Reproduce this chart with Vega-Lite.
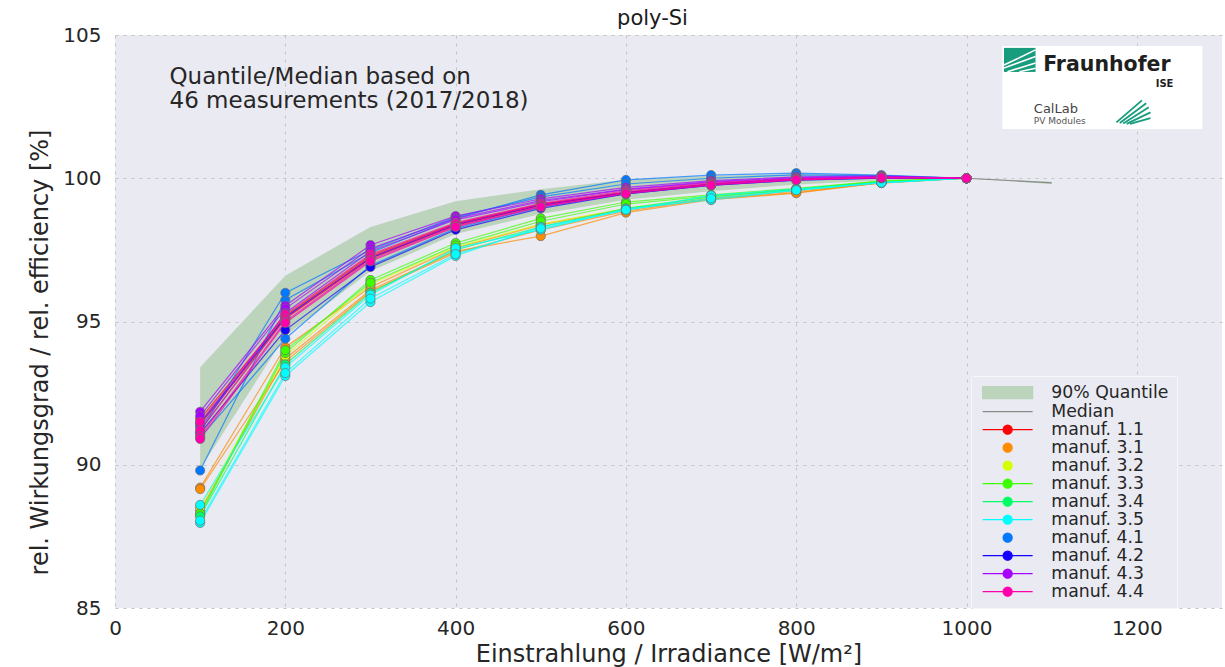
{
"$schema": "https://vega.github.io/schema/vega-lite/v6.json",
"width": 1107, "height": 573,
"autosize": "none",
"padding": {"left": 115, "top": 35, "right": 3, "bottom": 59},
"background": "#ffffff",
"title": {"text": "poly-Si", "font": "DejaVu Sans", "fontSize": 21, "fontWeight": "normal", "color": "#1a1a1a", "anchor": "middle", "offset": -4, "dx": -16},
"config": {
  "view": {"fill": "#eaeaf2", "stroke": null},
  "axis": {"labelFont": "DejaVu Sans", "titleFont": "DejaVu Sans", "labelColor": "#262626", "titleColor": "#262626", "titleFontWeight": "normal", "grid": true, "gridColor": "#c4c4c8", "gridDash": [3, 5], "gridWidth": 1, "domain": false, "ticks": false, "labelFlush": false, "labelOverlap": false},
  "legend": {
    "title": null, "orient": "none", "legendX": 856, "legendY": 341,
    "labelFont": "DejaVu Sans", "labelFontSize": 17.3, "labelColor": "#262626", "labelOffset": 55,
    "symbolSize": 100, "rowPadding": 0, "padding": 8,
    "fillColor": "#eaeaf2", "strokeColor": "#f7f7fa", "cornerRadius": 2
  }
},
"datasets": {
"series": [
{"m":"manuf. 1.1","s":1,"x":100,"y":91.6},{"m":"manuf. 1.1","s":1,"x":200,"y":95.2},{"m":"manuf. 1.1","s":1,"x":300,"y":97.3},{"m":"manuf. 1.1","s":1,"x":400,"y":98.42},{"m":"manuf. 1.1","s":1,"x":500,"y":99.1},{"m":"manuf. 1.1","s":1,"x":600,"y":99.5},{"m":"manuf. 1.1","s":1,"x":700,"y":99.8},{"m":"manuf. 1.1","s":1,"x":800,"y":99.97},{"m":"manuf. 1.1","s":1,"x":900,"y":100.03},{"m":"manuf. 1.1","s":1,"x":1000,"y":100},
{"m":"manuf. 1.1","s":2,"x":100,"y":91.4},{"m":"manuf. 1.1","s":2,"x":200,"y":95.1},{"m":"manuf. 1.1","s":2,"x":300,"y":97.2},{"m":"manuf. 1.1","s":2,"x":400,"y":98.35},{"m":"manuf. 1.1","s":2,"x":500,"y":99.05},{"m":"manuf. 1.1","s":2,"x":600,"y":99.47},{"m":"manuf. 1.1","s":2,"x":700,"y":99.77},{"m":"manuf. 1.1","s":2,"x":800,"y":99.95},{"m":"manuf. 1.1","s":2,"x":900,"y":100.02},{"m":"manuf. 1.1","s":2,"x":1000,"y":100},
{"m":"manuf. 3.1","s":3,"x":100,"y":89.2},{"m":"manuf. 3.1","s":3,"x":200,"y":94.1},{"m":"manuf. 3.1","s":3,"x":300,"y":96.2},{"m":"manuf. 3.1","s":3,"x":400,"y":97.56},{"m":"manuf. 3.1","s":3,"x":500,"y":98.37},{"m":"manuf. 3.1","s":3,"x":600,"y":98.93},{"m":"manuf. 3.1","s":3,"x":700,"y":99.3},{"m":"manuf. 3.1","s":3,"x":800,"y":99.55},{"m":"manuf. 3.1","s":3,"x":900,"y":99.83},{"m":"manuf. 3.1","s":3,"x":1000,"y":100},
{"m":"manuf. 3.1","s":4,"x":100,"y":89.15},{"m":"manuf. 3.1","s":4,"x":200,"y":93.6},{"m":"manuf. 3.1","s":4,"x":300,"y":96.05},{"m":"manuf. 3.1","s":4,"x":400,"y":97.4},{"m":"manuf. 3.1","s":4,"x":500,"y":98.2},{"m":"manuf. 3.1","s":4,"x":600,"y":98.85},{"m":"manuf. 3.1","s":4,"x":700,"y":99.28},{"m":"manuf. 3.1","s":4,"x":800,"y":99.5},{"m":"manuf. 3.1","s":4,"x":900,"y":99.85},{"m":"manuf. 3.1","s":4,"x":1000,"y":100},
{"m":"manuf. 3.1","s":5,"x":100,"y":88.4},{"m":"manuf. 3.1","s":5,"x":200,"y":93.7},{"m":"manuf. 3.1","s":5,"x":300,"y":96.1},{"m":"manuf. 3.1","s":5,"x":400,"y":97.45},{"m":"manuf. 3.1","s":5,"x":500,"y":97.98},{"m":"manuf. 3.1","s":5,"x":600,"y":98.8},{"m":"manuf. 3.1","s":5,"x":700,"y":99.25},{"m":"manuf. 3.1","s":5,"x":800,"y":99.48},{"m":"manuf. 3.1","s":5,"x":900,"y":99.85},{"m":"manuf. 3.1","s":5,"x":1000,"y":100},
{"m":"manuf. 3.2","s":6,"x":100,"y":88.5},{"m":"manuf. 3.2","s":6,"x":200,"y":93.8},{"m":"manuf. 3.2","s":6,"x":300,"y":96.3},{"m":"manuf. 3.2","s":6,"x":400,"y":97.6},{"m":"manuf. 3.2","s":6,"x":500,"y":98.4},{"m":"manuf. 3.2","s":6,"x":600,"y":98.95},{"m":"manuf. 3.2","s":6,"x":700,"y":99.35},{"m":"manuf. 3.2","s":6,"x":800,"y":99.6},{"m":"manuf. 3.2","s":6,"x":900,"y":99.88},{"m":"manuf. 3.2","s":6,"x":1000,"y":100},
{"m":"manuf. 3.3","s":7,"x":100,"y":88.25},{"m":"manuf. 3.3","s":7,"x":200,"y":93.9},{"m":"manuf. 3.3","s":7,"x":300,"y":96.45},{"m":"manuf. 3.3","s":7,"x":400,"y":97.74},{"m":"manuf. 3.3","s":7,"x":500,"y":98.6},{"m":"manuf. 3.3","s":7,"x":600,"y":99.17},{"m":"manuf. 3.3","s":7,"x":700,"y":99.42},{"m":"manuf. 3.3","s":7,"x":800,"y":99.65},{"m":"manuf. 3.3","s":7,"x":900,"y":99.9},{"m":"manuf. 3.3","s":7,"x":1000,"y":100},
{"m":"manuf. 3.3","s":8,"x":100,"y":88.3},{"m":"manuf. 3.3","s":8,"x":200,"y":94.0},{"m":"manuf. 3.3","s":8,"x":300,"y":96.35},{"m":"manuf. 3.3","s":8,"x":400,"y":97.65},{"m":"manuf. 3.3","s":8,"x":500,"y":98.5},{"m":"manuf. 3.3","s":8,"x":600,"y":99.1},{"m":"manuf. 3.3","s":8,"x":700,"y":99.38},{"m":"manuf. 3.3","s":8,"x":800,"y":99.62},{"m":"manuf. 3.3","s":8,"x":900,"y":99.9},{"m":"manuf. 3.3","s":8,"x":1000,"y":100},
{"m":"manuf. 3.4","s":9,"x":100,"y":88.2},{"m":"manuf. 3.4","s":9,"x":200,"y":93.5},{"m":"manuf. 3.4","s":9,"x":300,"y":96.0},{"m":"manuf. 3.4","s":9,"x":400,"y":97.5},{"m":"manuf. 3.4","s":9,"x":500,"y":98.3},{"m":"manuf. 3.4","s":9,"x":600,"y":98.95},{"m":"manuf. 3.4","s":9,"x":700,"y":99.35},{"m":"manuf. 3.4","s":9,"x":800,"y":99.6},{"m":"manuf. 3.4","s":9,"x":900,"y":99.87},{"m":"manuf. 3.4","s":9,"x":1000,"y":100},
{"m":"manuf. 3.5","s":10,"x":100,"y":88.6},{"m":"manuf. 3.5","s":10,"x":200,"y":93.4},{"m":"manuf. 3.5","s":10,"x":300,"y":95.93},{"m":"manuf. 3.5","s":10,"x":400,"y":97.56},{"m":"manuf. 3.5","s":10,"x":500,"y":98.2},{"m":"manuf. 3.5","s":10,"x":600,"y":98.93},{"m":"manuf. 3.5","s":10,"x":700,"y":99.24},{"m":"manuf. 3.5","s":10,"x":800,"y":99.59},{"m":"manuf. 3.5","s":10,"x":900,"y":99.85},{"m":"manuf. 3.5","s":10,"x":1000,"y":100},
{"m":"manuf. 3.5","s":11,"x":100,"y":87.97},{"m":"manuf. 3.5","s":11,"x":200,"y":93.1},{"m":"manuf. 3.5","s":11,"x":300,"y":95.68},{"m":"manuf. 3.5","s":11,"x":400,"y":97.29},{"m":"manuf. 3.5","s":11,"x":500,"y":98.3},{"m":"manuf. 3.5","s":11,"x":600,"y":98.88},{"m":"manuf. 3.5","s":11,"x":700,"y":99.4},{"m":"manuf. 3.5","s":11,"x":800,"y":99.62},{"m":"manuf. 3.5","s":11,"x":900,"y":99.85},{"m":"manuf. 3.5","s":11,"x":1000,"y":100},
{"m":"manuf. 3.5","s":12,"x":100,"y":88.05},{"m":"manuf. 3.5","s":12,"x":200,"y":93.2},{"m":"manuf. 3.5","s":12,"x":300,"y":95.8},{"m":"manuf. 3.5","s":12,"x":400,"y":97.35},{"m":"manuf. 3.5","s":12,"x":500,"y":98.25},{"m":"manuf. 3.5","s":12,"x":600,"y":98.9},{"m":"manuf. 3.5","s":12,"x":700,"y":99.3},{"m":"manuf. 3.5","s":12,"x":800,"y":99.58},{"m":"manuf. 3.5","s":12,"x":900,"y":99.84},{"m":"manuf. 3.5","s":12,"x":1000,"y":100},
{"m":"manuf. 4.1","s":13,"x":100,"y":89.8},{"m":"manuf. 4.1","s":13,"x":200,"y":95.75},{"m":"manuf. 4.1","s":13,"x":300,"y":97.4},{"m":"manuf. 4.1","s":13,"x":400,"y":98.6},{"m":"manuf. 4.1","s":13,"x":500,"y":99.42},{"m":"manuf. 4.1","s":13,"x":600,"y":99.94},{"m":"manuf. 4.1","s":13,"x":700,"y":100.11},{"m":"manuf. 4.1","s":13,"x":800,"y":100.18},{"m":"manuf. 4.1","s":13,"x":900,"y":100.11},{"m":"manuf. 4.1","s":13,"x":1000,"y":100},
{"m":"manuf. 4.1","s":14,"x":100,"y":91.15},{"m":"manuf. 4.1","s":14,"x":200,"y":96.0},{"m":"manuf. 4.1","s":14,"x":300,"y":97.5},{"m":"manuf. 4.1","s":14,"x":400,"y":98.65},{"m":"manuf. 4.1","s":14,"x":500,"y":99.35},{"m":"manuf. 4.1","s":14,"x":600,"y":99.8},{"m":"manuf. 4.1","s":14,"x":700,"y":100.0},{"m":"manuf. 4.1","s":14,"x":800,"y":100.12},{"m":"manuf. 4.1","s":14,"x":900,"y":100.08},{"m":"manuf. 4.1","s":14,"x":1000,"y":100},
{"m":"manuf. 4.1","s":15,"x":100,"y":90.95},{"m":"manuf. 4.1","s":15,"x":200,"y":94.4},{"m":"manuf. 4.1","s":15,"x":300,"y":96.95},{"m":"manuf. 4.1","s":15,"x":400,"y":98.25},{"m":"manuf. 4.1","s":15,"x":500,"y":99.0},{"m":"manuf. 4.1","s":15,"x":600,"y":99.45},{"m":"manuf. 4.1","s":15,"x":700,"y":99.76},{"m":"manuf. 4.1","s":15,"x":800,"y":99.93},{"m":"manuf. 4.1","s":15,"x":900,"y":100.0},{"m":"manuf. 4.1","s":15,"x":1000,"y":100},
{"m":"manuf. 4.2","s":16,"x":100,"y":91.45},{"m":"manuf. 4.2","s":16,"x":200,"y":95.15},{"m":"manuf. 4.2","s":16,"x":300,"y":97.22},{"m":"manuf. 4.2","s":16,"x":400,"y":98.38},{"m":"manuf. 4.2","s":16,"x":500,"y":99.06},{"m":"manuf. 4.2","s":16,"x":600,"y":99.5},{"m":"manuf. 4.2","s":16,"x":700,"y":99.8},{"m":"manuf. 4.2","s":16,"x":800,"y":99.97},{"m":"manuf. 4.2","s":16,"x":900,"y":100.03},{"m":"manuf. 4.2","s":16,"x":1000,"y":100},
{"m":"manuf. 4.2","s":17,"x":100,"y":91.1},{"m":"manuf. 4.2","s":17,"x":200,"y":94.7},{"m":"manuf. 4.2","s":17,"x":300,"y":96.9},{"m":"manuf. 4.2","s":17,"x":400,"y":98.2},{"m":"manuf. 4.2","s":17,"x":500,"y":98.95},{"m":"manuf. 4.2","s":17,"x":600,"y":99.45},{"m":"manuf. 4.2","s":17,"x":700,"y":99.75},{"m":"manuf. 4.2","s":17,"x":800,"y":99.93},{"m":"manuf. 4.2","s":17,"x":900,"y":100.0},{"m":"manuf. 4.2","s":17,"x":1000,"y":100},
{"m":"manuf. 4.3","s":18,"x":100,"y":91.85},{"m":"manuf. 4.3","s":18,"x":200,"y":95.55},{"m":"manuf. 4.3","s":18,"x":300,"y":97.67},{"m":"manuf. 4.3","s":18,"x":400,"y":98.68},{"m":"manuf. 4.3","s":18,"x":500,"y":99.28},{"m":"manuf. 4.3","s":18,"x":600,"y":99.68},{"m":"manuf. 4.3","s":18,"x":700,"y":99.92},{"m":"manuf. 4.3","s":18,"x":800,"y":100.05},{"m":"manuf. 4.3","s":18,"x":900,"y":100.08},{"m":"manuf. 4.3","s":18,"x":1000,"y":100},
{"m":"manuf. 4.3","s":19,"x":100,"y":91.7},{"m":"manuf. 4.3","s":19,"x":200,"y":95.45},{"m":"manuf. 4.3","s":19,"x":300,"y":97.55},{"m":"manuf. 4.3","s":19,"x":400,"y":98.6},{"m":"manuf. 4.3","s":19,"x":500,"y":99.22},{"m":"manuf. 4.3","s":19,"x":600,"y":99.62},{"m":"manuf. 4.3","s":19,"x":700,"y":99.88},{"m":"manuf. 4.3","s":19,"x":800,"y":100.02},{"m":"manuf. 4.3","s":19,"x":900,"y":100.06},{"m":"manuf. 4.3","s":19,"x":1000,"y":100},
{"m":"manuf. 4.3","s":20,"x":100,"y":91.3},{"m":"manuf. 4.3","s":20,"x":200,"y":95.3},{"m":"manuf. 4.3","s":20,"x":300,"y":97.45},{"m":"manuf. 4.3","s":20,"x":400,"y":98.55},{"m":"manuf. 4.3","s":20,"x":500,"y":99.18},{"m":"manuf. 4.3","s":20,"x":600,"y":99.6},{"m":"manuf. 4.3","s":20,"x":700,"y":99.86},{"m":"manuf. 4.3","s":20,"x":800,"y":100.0},{"m":"manuf. 4.3","s":20,"x":900,"y":100.05},{"m":"manuf. 4.3","s":20,"x":1000,"y":100},
{"m":"manuf. 4.4","s":21,"x":100,"y":91.5},{"m":"manuf. 4.4","s":21,"x":200,"y":95.25},{"m":"manuf. 4.4","s":21,"x":300,"y":97.35},{"m":"manuf. 4.4","s":21,"x":400,"y":98.45},{"m":"manuf. 4.4","s":21,"x":500,"y":99.12},{"m":"manuf. 4.4","s":21,"x":600,"y":99.56},{"m":"manuf. 4.4","s":21,"x":700,"y":99.84},{"m":"manuf. 4.4","s":21,"x":800,"y":99.98},{"m":"manuf. 4.4","s":21,"x":900,"y":100.04},{"m":"manuf. 4.4","s":21,"x":1000,"y":100},
{"m":"manuf. 4.4","s":22,"x":100,"y":91.2},{"m":"manuf. 4.4","s":22,"x":200,"y":95.1},{"m":"manuf. 4.4","s":22,"x":300,"y":97.25},{"m":"manuf. 4.4","s":22,"x":400,"y":98.4},{"m":"manuf. 4.4","s":22,"x":500,"y":99.08},{"m":"manuf. 4.4","s":22,"x":600,"y":99.52},{"m":"manuf. 4.4","s":22,"x":700,"y":99.8},{"m":"manuf. 4.4","s":22,"x":800,"y":99.96},{"m":"manuf. 4.4","s":22,"x":900,"y":100.03},{"m":"manuf. 4.4","s":22,"x":1000,"y":100},
{"m":"manuf. 4.4","s":23,"x":100,"y":91.0},{"m":"manuf. 4.4","s":23,"x":200,"y":95.0},{"m":"manuf. 4.4","s":23,"x":300,"y":97.15},{"m":"manuf. 4.4","s":23,"x":400,"y":98.32},{"m":"manuf. 4.4","s":23,"x":500,"y":99.02},{"m":"manuf. 4.4","s":23,"x":600,"y":99.48},{"m":"manuf. 4.4","s":23,"x":700,"y":99.78},{"m":"manuf. 4.4","s":23,"x":800,"y":99.95},{"m":"manuf. 4.4","s":23,"x":900,"y":100.02},{"m":"manuf. 4.4","s":23,"x":1000,"y":100},
{"m":"manuf. 4.4","s":24,"x":100,"y":90.9},{"m":"manuf. 4.4","s":24,"x":200,"y":94.95},{"m":"manuf. 4.4","s":24,"x":300,"y":97.1},{"m":"manuf. 4.4","s":24,"x":400,"y":98.3},{"m":"manuf. 4.4","s":24,"x":500,"y":99.0},{"m":"manuf. 4.4","s":24,"x":600,"y":99.46},{"m":"manuf. 4.4","s":24,"x":700,"y":99.76},{"m":"manuf. 4.4","s":24,"x":800,"y":99.94},{"m":"manuf. 4.4","s":24,"x":900,"y":100.02},{"m":"manuf. 4.4","s":24,"x":1000,"y":100}
],
"band": [
{"x":100,"lo":89.85,"hi":93.4,"med":91.2},{"x":200,"lo":94.5,"hi":96.6,"med":95.15},{"x":300,"lo":96.75,"hi":98.3,"med":97.25},{"x":400,"lo":98.05,"hi":99.2,"med":98.4},{"x":500,"lo":98.75,"hi":99.62,"med":99.08},{"x":600,"lo":99.25,"hi":99.95,"med":99.52},{"x":700,"lo":99.55,"hi":100.08,"med":99.8},{"x":800,"lo":99.78,"hi":100.15,"med":99.96},{"x":900,"lo":99.92,"hi":100.12,"med":100.03},{"x":1000,"lo":99.99,"hi":100.01,"med":100},{"x":1100,"lo":99.8,"hi":99.88,"med":99.84}
]
},
"layer": [
{
  "data": {"name": "band"},
  "mark": {"type": "area", "opacity": 1},
  "encoding": {
    "x": {"field": "x", "type": "quantitative", "scale": {"domain": [0, 1300], "nice": false, "zero": false},
          "axis": {"values": [0, 200, 400, 600, 800, 1000, 1200], "format": "d", "labelFontSize": 20, "labelPadding": 10, "title": "Einstrahlung / Irradiance [W/m²]", "titleFontSize": 24, "titlePadding": 4}},
    "y": {"field": "hi", "type": "quantitative", "scale": {"domain": [85, 105], "nice": false, "zero": false},
          "axis": {"values": [85, 90, 95, 100, 105], "labelFontSize": 20, "labelPadding": 14, "title": "rel. Wirkungsgrad / rel. efficiency [%]", "titleFontSize": 24, "titlePadding": 10, "titleY": 317}},
    "y2": {"field": "lo"},
    "color": {"datum": "90% Quantile", "type": "nominal",
      "scale": {"domain": ["90% Quantile", "Median", "manuf. 1.1", "manuf. 3.1", "manuf. 3.2", "manuf. 3.3", "manuf. 3.4", "manuf. 3.5", "manuf. 4.1", "manuf. 4.2", "manuf. 4.3", "manuf. 4.4"],
                "range": ["#bcd4bc", "#8a8a8a", "#ff0000", "#ff8c00", "#d4ff00", "#3cff00", "#00ff66", "#00ffff", "#0078ff", "#1400ff", "#a800ff", "#ff00aa"]},
      "legend": {"title": null, "symbolType": "M-1,0H9M3.1,0A0.9,0.9 0 1 0 4.9,0A0.9,0.9 0 1 0 3.1,0Z",
        "encode": {"symbols": {"update": {
          "shape": {"signal": "datum.value === '90% Quantile' ? 'M-1,-1.2H9V1.2H-1Z' : datum.value === 'Median' ? 'M-1,0H9' : indexof(['manuf. 3.1','manuf. 3.2','manuf. 4.1'], datum.value) >= 0 ? 'M3.1,0A0.9,0.9 0 1 0 4.9,0A0.9,0.9 0 1 0 3.1,0Z' : 'M-1,0H9M3.1,0A0.9,0.9 0 1 0 4.9,0A0.9,0.9 0 1 0 3.1,0Z'"},
          "fill": {"signal": "datum.value === 'Median' ? 'transparent' : scale('color', datum.value)"},
          "stroke": {"signal": "datum.value === '90% Quantile' ? 'transparent' : scale('color', datum.value)"},
          "strokeWidth": {"value": 1.3},
          "opacity": {"value": 1}
        }}}}}
  }
},
{
  "data": {"name": "band"},
  "mark": {"type": "line", "strokeWidth": 1.2},
  "encoding": {
    "x": {"field": "x", "type": "quantitative"},
    "y": {"field": "med", "type": "quantitative"},
    "color": {"datum": "Median", "type": "nominal",
      "legend": {"title": null, "symbolType": "M-1,0H9M3.1,0A0.9,0.9 0 1 0 4.9,0A0.9,0.9 0 1 0 3.1,0Z",
        "encode": {"symbols": {"update": {
          "shape": {"signal": "datum.value === '90% Quantile' ? 'M-1,-1.2H9V1.2H-1Z' : datum.value === 'Median' ? 'M-1,0H9' : indexof(['manuf. 3.1','manuf. 3.2','manuf. 4.1'], datum.value) >= 0 ? 'M3.1,0A0.9,0.9 0 1 0 4.9,0A0.9,0.9 0 1 0 3.1,0Z' : 'M-1,0H9M3.1,0A0.9,0.9 0 1 0 4.9,0A0.9,0.9 0 1 0 3.1,0Z'"},
          "fill": {"signal": "datum.value === 'Median' ? 'transparent' : scale('color', datum.value)"},
          "stroke": {"signal": "datum.value === '90% Quantile' ? 'transparent' : scale('color', datum.value)"},
          "strokeWidth": {"value": 1.3},
          "opacity": {"value": 1}
        }}}}}
  }
},
{
  "data": {"name": "series"},
  "mark": {"type": "line", "strokeWidth": 1.2, "opacity": 0.7},
  "encoding": {
    "x": {"field": "x", "type": "quantitative"},
    "y": {"field": "y", "type": "quantitative"},
    "detail": {"field": "s", "type": "nominal"},
    "color": {"field": "m", "type": "nominal",
      "legend": {"title": null, "symbolType": "M-1,0H9M3.1,0A0.9,0.9 0 1 0 4.9,0A0.9,0.9 0 1 0 3.1,0Z",
        "encode": {"symbols": {"update": {
          "shape": {"signal": "datum.value === '90% Quantile' ? 'M-1,-1.2H9V1.2H-1Z' : datum.value === 'Median' ? 'M-1,0H9' : indexof(['manuf. 3.1','manuf. 3.2','manuf. 4.1'], datum.value) >= 0 ? 'M3.1,0A0.9,0.9 0 1 0 4.9,0A0.9,0.9 0 1 0 3.1,0Z' : 'M-1,0H9M3.1,0A0.9,0.9 0 1 0 4.9,0A0.9,0.9 0 1 0 3.1,0Z'"},
          "fill": {"signal": "datum.value === 'Median' ? 'transparent' : scale('color', datum.value)"},
          "stroke": {"signal": "datum.value === '90% Quantile' ? 'transparent' : scale('color', datum.value)"},
          "strokeWidth": {"value": 1.3},
          "opacity": {"value": 1}
        }}}}}
  }
},
{
  "data": {"name": "series"},
  "mark": {"type": "point", "filled": true, "size": 85, "stroke": "#6e6e6e", "strokeWidth": 0.7, "opacity": 1},
  "encoding": {
    "x": {"field": "x", "type": "quantitative"},
    "y": {"field": "y", "type": "quantitative"},
    "color": {"field": "m", "type": "nominal",
      "legend": {"title": null, "symbolType": "M-1,0H9M3.1,0A0.9,0.9 0 1 0 4.9,0A0.9,0.9 0 1 0 3.1,0Z",
        "encode": {"symbols": {"update": {
          "shape": {"signal": "datum.value === '90% Quantile' ? 'M-1,-1.2H9V1.2H-1Z' : datum.value === 'Median' ? 'M-1,0H9' : indexof(['manuf. 3.1','manuf. 3.2','manuf. 4.1'], datum.value) >= 0 ? 'M3.1,0A0.9,0.9 0 1 0 4.9,0A0.9,0.9 0 1 0 3.1,0Z' : 'M-1,0H9M3.1,0A0.9,0.9 0 1 0 4.9,0A0.9,0.9 0 1 0 3.1,0Z'"},
          "fill": {"signal": "datum.value === 'Median' ? 'transparent' : scale('color', datum.value)"},
          "stroke": {"signal": "datum.value === '90% Quantile' ? 'transparent' : scale('color', datum.value)"},
          "strokeWidth": {"value": 1.3},
          "opacity": {"value": 1}
        }}}}}
  }
},
{
  "data": {"values": [{"x": 64, "y": 103.53, "t": "Quantile/Median based on"}, {"x": 64, "y": 102.7, "t": "46 measurements (2017/2018)"}]},
  "mark": {"type": "text", "align": "left", "baseline": "middle", "font": "DejaVu Sans", "fontSize": 23, "color": "#262626"},
  "encoding": {"x": {"field": "x", "type": "quantitative"}, "y": {"field": "y", "type": "quantitative"}, "text": {"field": "t"}}
},
{
  "data": {"values": [{"x": 1042, "x2": 1277, "y": 104.62, "y2": 101.72}]},
  "mark": {"type": "rect", "fill": "#ffffff"},
  "encoding": {"x": {"field": "x", "type": "quantitative"}, "x2": {"field": "x2"}, "y": {"field": "y", "type": "quantitative"}, "y2": {"field": "y2"}}
},
{
  "data": {"values": [{"x": 1044, "x2": 1081, "y": 104.55, "y2": 103.71}]},
  "mark": {"type": "rect", "fill": "#179c7d"},
  "encoding": {"x": {"field": "x", "type": "quantitative"}, "x2": {"field": "x2"}, "y": {"field": "y", "type": "quantitative"}, "y2": {"field": "y2"}}
},
{
  "data": {"values": [
    {"x": 1044, "y": 103.95, "x2": 1081, "y2": 104.48},
    {"x": 1044, "y": 103.85, "x2": 1081, "y2": 104.25},
    {"x": 1048, "y": 103.72, "x2": 1081, "y2": 104.02},
    {"x": 1062, "y": 103.72, "x2": 1081, "y2": 103.84}
  ]},
  "mark": {"type": "rule", "color": "#ffffff", "strokeWidth": 1.6},
  "encoding": {"x": {"field": "x", "type": "quantitative"}, "x2": {"field": "x2"}, "y": {"field": "y", "type": "quantitative"}, "y2": {"field": "y2"}}
},
{
  "data": {"values": [
    {"x": 1176, "y": 101.95, "x2": 1206, "y2": 102.72},
    {"x": 1180, "y": 101.93, "x2": 1211, "y2": 102.62},
    {"x": 1184, "y": 101.91, "x2": 1214, "y2": 102.48},
    {"x": 1188, "y": 101.9, "x2": 1216, "y2": 102.3},
    {"x": 1192, "y": 101.9, "x2": 1216, "y2": 102.1}
  ]},
  "mark": {"type": "rule", "color": "#179c7d", "strokeWidth": 1.8},
  "encoding": {"x": {"field": "x", "type": "quantitative"}, "x2": {"field": "x2"}, "y": {"field": "y", "type": "quantitative"}, "y2": {"field": "y2"}}
},
{
  "data": {"values": [
    {"x": 1090, "y": 103.95, "t": "Fraunhofer"},
    {"x": 1243, "y": 103.3, "t": "ISE"},
    {"x": 1079, "y": 102.42, "t": "CalLab"},
    {"x": 1079, "y": 102.0, "t": "PV Modules"}
  ]},
  "layer": [
    {"transform": [{"filter": "datum.t === 'Fraunhofer'"}],
     "mark": {"type": "text", "align": "left", "baseline": "middle", "font": "DejaVu Sans", "fontWeight": "bold", "fontSize": 20.5, "color": "#1f1f1f"},
     "encoding": {"x": {"field": "x", "type": "quantitative"}, "y": {"field": "y", "type": "quantitative"}, "text": {"field": "t"}}},
    {"transform": [{"filter": "datum.t === 'ISE'"}],
     "mark": {"type": "text", "align": "right", "baseline": "middle", "font": "DejaVu Sans", "fontWeight": "bold", "fontSize": 10, "color": "#1f1f1f"},
     "encoding": {"x": {"field": "x", "type": "quantitative"}, "y": {"field": "y", "type": "quantitative"}, "text": {"field": "t"}}},
    {"transform": [{"filter": "datum.t === 'CalLab'"}],
     "mark": {"type": "text", "align": "left", "baseline": "middle", "font": "DejaVu Sans", "fontSize": 13, "color": "#444444"},
     "encoding": {"x": {"field": "x", "type": "quantitative"}, "y": {"field": "y", "type": "quantitative"}, "text": {"field": "t"}}},
    {"transform": [{"filter": "datum.t === 'PV Modules'"}],
     "mark": {"type": "text", "align": "left", "baseline": "middle", "font": "DejaVu Sans", "fontSize": 9, "color": "#555555"},
     "encoding": {"x": {"field": "x", "type": "quantitative"}, "y": {"field": "y", "type": "quantitative"}, "text": {"field": "t"}}}
  ]
}
]
}
